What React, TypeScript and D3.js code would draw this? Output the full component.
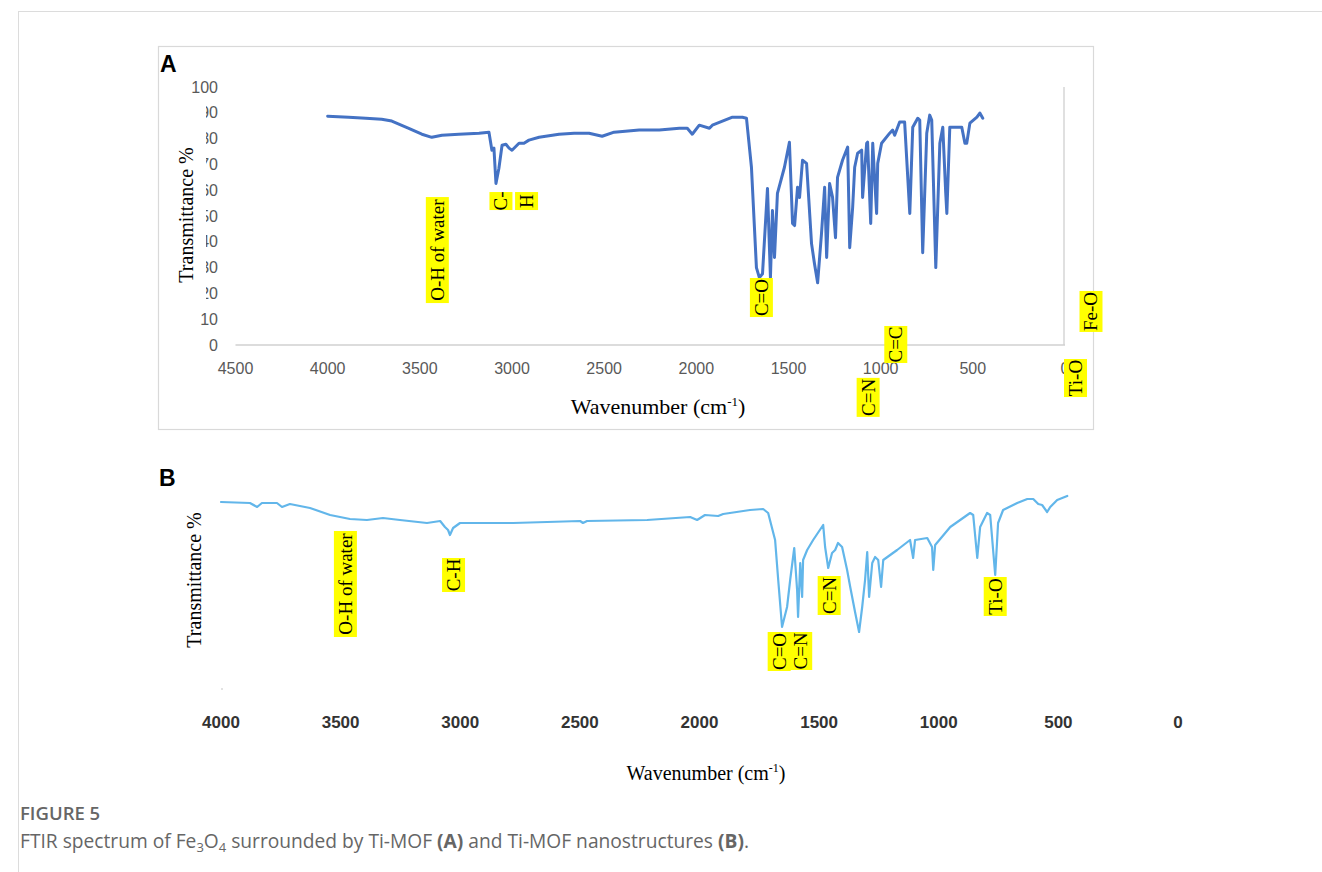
import React from 'react';
import * as d3 from 'd3';

// ---------- Panel A: Fe3O4 @ Ti-MOF ----------
const waveA = [4000, 3886, 3793, 3707, 3652, 3560, 3489, 3435, 3380, 3288, 3179, 3125, 3109, 3098, 3087, 3071, 3054, 3033, 3016, 3000, 2962, 2935, 2908, 2853, 2745, 2663, 2582, 2511, 2446, 2310, 2201, 2092, 2049, 2022, 1984, 1929, 1913, 1804, 1750, 1728, 1701, 1674, 1658, 1641, 1614, 1598, 1587, 1576, 1560, 1522, 1495, 1478, 1467, 1451, 1440, 1424, 1402, 1375, 1359, 1342, 1321, 1304, 1293, 1277, 1261, 1245, 1234, 1207, 1179, 1168, 1152, 1141, 1125, 1103, 1098, 1076, 1071, 1054, 1043, 1022, 1016, 995, 951, 935, 924, 897, 870, 842, 826, 799, 788, 772, 750, 734, 723, 701, 679, 663, 647, 641, 625, 587, 560, 543, 533, 516, 478, 462, 446];
const transA = [88.7, 88.3, 87.9, 87.5, 86.8, 84.0, 81.7, 80.5, 81.3, 81.7, 82.1, 82.5, 75.5, 76.3, 62.6, 68.5, 77.4, 77.8, 76.3, 75.5, 78.2, 78.2, 79.4, 80.5, 81.7, 82.1, 82.1, 80.9, 82.5, 83.3, 83.3, 84.0, 84.0, 81.7, 85.2, 84.0, 85.2, 88.3, 88.3, 87.9, 68.9, 30.0, 26.1, 27.6, 60.7, 26.1, 52.1, 33.9, 58.8, 68.9, 78.6, 47.1, 46.3, 61.1, 57.2, 71.6, 70.4, 39.3, 31.5, 24.1, 43.2, 61.1, 33.9, 62.6, 57.2, 41.6, 65.0, 71.6, 76.7, 37.7, 53.3, 68.9, 74.3, 75.5, 57.2, 78.2, 78.6, 47.1, 78.2, 51.0, 70.4, 78.2, 82.1, 83.3, 81.3, 86.4, 86.4, 51.0, 84.4, 87.9, 87.2, 35.8, 82.1, 89.1, 87.2, 30.0, 78.2, 84.4, 58.8, 51.0, 84.4, 84.4, 84.4, 78.2, 78.2, 86.0, 88.3, 89.9, 87.9];
const ticksAX = [4500, 4000, 3500, 3000, 2500, 2000, 1500, 1000, 500, 0];
const ticksAY = [0, 10, 20, 30, 40, 50, 60, 70, 80, 90, 100];
const tagsA = [
  { text: 'O-H of water', wn: 3405, t: 36.8, len: 106 },
  { text: 'C-', wn: 3060, t: 55.8, len: 18 },
  { text: 'H', wn: 2921, t: 55.8, len: 18 },
  { text: 'C=O', wn: 1647, t: 18.4, len: 39 },
  { text: 'C=C', wn: 918, t: 0.2, len: 37 },
  { text: 'C=N', wn: 1068, t: -20.3, len: 39 },
  { text: 'Fe-O', wn: -141, t: 13.0, len: 41 },
  { text: 'Ti-O', wn: -57, t: -12.8, len: 38 },
];

// ---------- Panel B: Ti-MOF ----------
const waveB = [4000, 3879, 3849, 3829, 3766, 3745, 3712, 3628, 3544, 3461, 3390, 3323, 3252, 3139, 3084, 3064, 3051, 3043, 3030, 3001, 2905, 2779, 2637, 2499, 2487, 2470, 2219, 2039, 2010, 1977, 1922, 1901, 1789, 1734, 1713, 1684, 1671, 1655, 1634, 1621, 1604, 1592, 1588, 1579, 1571, 1567, 1550, 1525, 1483, 1475, 1462, 1446, 1433, 1421, 1404, 1383, 1370, 1349, 1333, 1320, 1308, 1299, 1291, 1278, 1266, 1253, 1241, 1232, 1174, 1120, 1107, 1099, 1048, 1028, 1023, 1015, 952, 869, 856, 839, 827, 798, 785, 764, 752, 731, 672, 630, 605, 584, 568, 547, 534, 505, 463];
const transB = [87.2, 86.8, 85.2, 86.8, 86.8, 85.2, 86.4, 84.8, 82.0, 80.4, 80.0, 80.8, 80.0, 78.8, 79.6, 77.2, 76.0, 74.0, 76.8, 78.8, 78.8, 78.8, 79.2, 79.6, 78.8, 79.6, 80.0, 81.2, 80.0, 82.0, 81.6, 82.4, 84.0, 84.4, 82.8, 72.0, 56.0, 37.2, 45.2, 56.0, 68.8, 52.0, 41.2, 62.8, 49.2, 64.0, 68.0, 72.0, 78.0, 69.2, 60.8, 66.8, 68.0, 70.8, 69.2, 60.0, 53.2, 42.8, 35.2, 45.2, 56.0, 67.2, 49.2, 62.8, 65.2, 64.0, 53.2, 64.0, 68.0, 72.0, 64.8, 72.0, 72.8, 69.2, 60.0, 70.0, 77.2, 82.8, 82.0, 64.8, 77.2, 82.8, 82.0, 58.0, 78.8, 84.0, 86.8, 88.4, 88.4, 86.4, 86.0, 83.2, 85.2, 88.0, 89.6];
const ticksBX = [4000, 3500, 3000, 2500, 2000, 1500, 1000, 500, 0];
const tagsB = [
  { text: 'O-H of water', wn: 3480, t: 54.4, len: 106 },
  { text: 'C-H', wn: 3028, t: 58.0, len: 34 },
  { text: 'C=O', wn: 1667, t: 27.4, len: 39 },
  { text: 'C=N', wn: 1577, t: 27.6, len: 38 },
  { text: 'C=N', wn: 1458, t: 49.8, len: 39 },
  { text: 'Ti-O', wn: 764, t: 49.4, len: 39 },
];

const SERIF = "'Liberation Serif', 'DejaVu Serif', serif";
const SANS = "'Liberation Sans', Arial, sans-serif";
const CAP = "'Open Sans', 'Noto Sans', sans-serif";

function Tag({ x, y, len, text }: { x: number; y: number; len: number; text: string }) {
  return (
    <g transform={`translate(${x},${y}) rotate(-90)`}>
      <rect x={-len / 2} y={-11.5} width={len} height={23} fill="#FFFF00" />
      <text x={0} y={0} dy="0.34em" textAnchor="middle" fontFamily={SERIF} fontSize={19} fill="#000">
        {text}
      </text>
    </g>
  );
}

export default function App() {
  const W = 1322;
  const H = 872;

  // Panel A scales
  const xA = d3.scaleLinear().domain([4500, 0]).range([235.5, 1065]);
  const yA = d3.scaleLinear().domain([0, 100]).range([345, 87]);
  const lineA = d3
    .line<number>()
    .x((_, i) => xA(waveA[i]))
    .y((d) => yA(d));

  // Panel B scales
  const xB = d3.scaleLinear().domain([4000, 0]).range([221, 1178]);
  const yB = d3.scaleLinear().domain([0, 100]).range([720, 470]);
  const lineB = d3
    .line<number>()
    .x((_, i) => xB(waveB[i]))
    .y((d) => yB(d));

  return (
    <svg
      width={W}
      height={H}
      style={{ position: 'absolute', left: 0, top: 0, display: 'block', background: '#fff' }}
    >
      <rect x={0} y={0} width={W} height={H} fill="#fff" />
      {/* page rules */}
      <line x1={18} y1={11.5} x2={W} y2={11.5} stroke="#dcdcdc" strokeWidth={1} />
      <line x1={18.5} y1={11.5} x2={18.5} y2={H} stroke="#dcdcdc" strokeWidth={1} />

      {/* ================= Panel A ================= */}
      <rect x={158.5} y={46.5} width={935} height={383} fill="#fff" stroke="#d9d9d9" strokeWidth={1.2} />
      <text x={160} y={72} fontFamily={SANS} fontWeight="bold" fontSize={23} fill="#000">A</text>

      {/* axes */}
      <line x1={xA(4500)} y1={yA(0)} x2={xA(0)} y2={yA(0)} stroke="#d0d0d0" strokeWidth={1.3} />
      <line x1={xA(0) - 1} y1={yA(100)} x2={xA(0) - 1} y2={yA(0)} stroke="#d0d0d0" strokeWidth={1.3} />

      {ticksAY.map((t) => (
        <text key={'ay' + t} x={218} y={yA(t)} dy="0.35em" textAnchor="end" fontFamily={SANS} fontSize={16} fill="#595959">
          {t}
        </text>
      ))}
      {ticksAX.map((t) => (
        <text key={'ax' + t} x={xA(t)} y={374} textAnchor="middle" fontFamily={SANS} fontSize={16} fill="#595959">
          {t}
        </text>
      ))}

      {/* y title with white plate partially hiding tick digits */}
      <rect x={174} y={100} width={32} height={200} fill="#fff" />
      <text
        transform={`translate(186,215) rotate(-90)`}
        dy="0.35em"
        textAnchor="middle"
        fontFamily={SERIF}
        fontSize={20}
        fill="#000"
      >
        Transmittance %
      </text>

      <text x={658} y={414} textAnchor="middle" fontFamily={SERIF} fontSize={22} fill="#000">
        Wavenumber (cm<tspan dy={-8} fontSize={13}>-1</tspan>
        <tspan dy={8}>)</tspan>
      </text>

      <path d={lineA(transA) || ''} fill="none" stroke="#4472C4" strokeWidth={3} strokeLinejoin="round" strokeLinecap="round" />

      {tagsA.map((g, i) => (
        <Tag key={'ta' + i} x={xA(g.wn)} y={yA(g.t)} len={g.len} text={g.text} />
      ))}

      {/* ================= Panel B ================= */}
      <text x={159} y={486} fontFamily={SANS} fontWeight="bold" fontSize={23} fill="#000">B</text>

      <text
        transform={`translate(194,580) rotate(-90)`}
        dy="0.35em"
        textAnchor="middle"
        fontFamily={SERIF}
        fontSize={20}
        fill="#000"
      >
        Transmittance %
      </text>

      <circle cx={222} cy={689} r={1} fill="#d8d8d8" />

      <path d={lineB(transB) || ''} fill="none" stroke="#62B6EA" strokeWidth={2.2} strokeLinejoin="round" strokeLinecap="round" />

      {tagsB.map((g, i) => (
        <Tag key={'tb' + i} x={xB(g.wn)} y={yB(g.t)} len={g.len} text={g.text} />
      ))}

      {ticksBX.map((t) => (
        <text key={'bx' + t} x={xB(t)} y={728} textAnchor="middle" fontFamily={SANS} fontWeight="bold" fontSize={17} fill="#333">
          {t}
        </text>
      ))}

      <text x={706} y={780} textAnchor="middle" fontFamily={SERIF} fontSize={20} fill="#000">
        Wavenumber (cm<tspan dy={-8} fontSize={12}>-1</tspan>
        <tspan dy={8}>)</tspan>
      </text>

      {/* ================= Caption ================= */}
      <text x={20} y={820} fontFamily={CAP} fontWeight={600} fontSize={18.5} fill="#666">
        FIGURE 5
      </text>
      <text x={20} y={848} fontFamily={CAP} fontSize={19.2} fill="#666">
        FTIR spectrum of Fe
        <tspan dy={4} fontSize={13}>3</tspan>
        <tspan dy={-4}>O</tspan>
        <tspan dy={4} fontSize={13}>4</tspan>
        <tspan dy={-4}> surrounded by Ti-MOF </tspan>
        <tspan fontWeight="bold">(A)</tspan>
        <tspan> and Ti-MOF nanostructures </tspan>
        <tspan fontWeight="bold">(B)</tspan>
        <tspan>.</tspan>
      </text>
    </svg>
  );
}
